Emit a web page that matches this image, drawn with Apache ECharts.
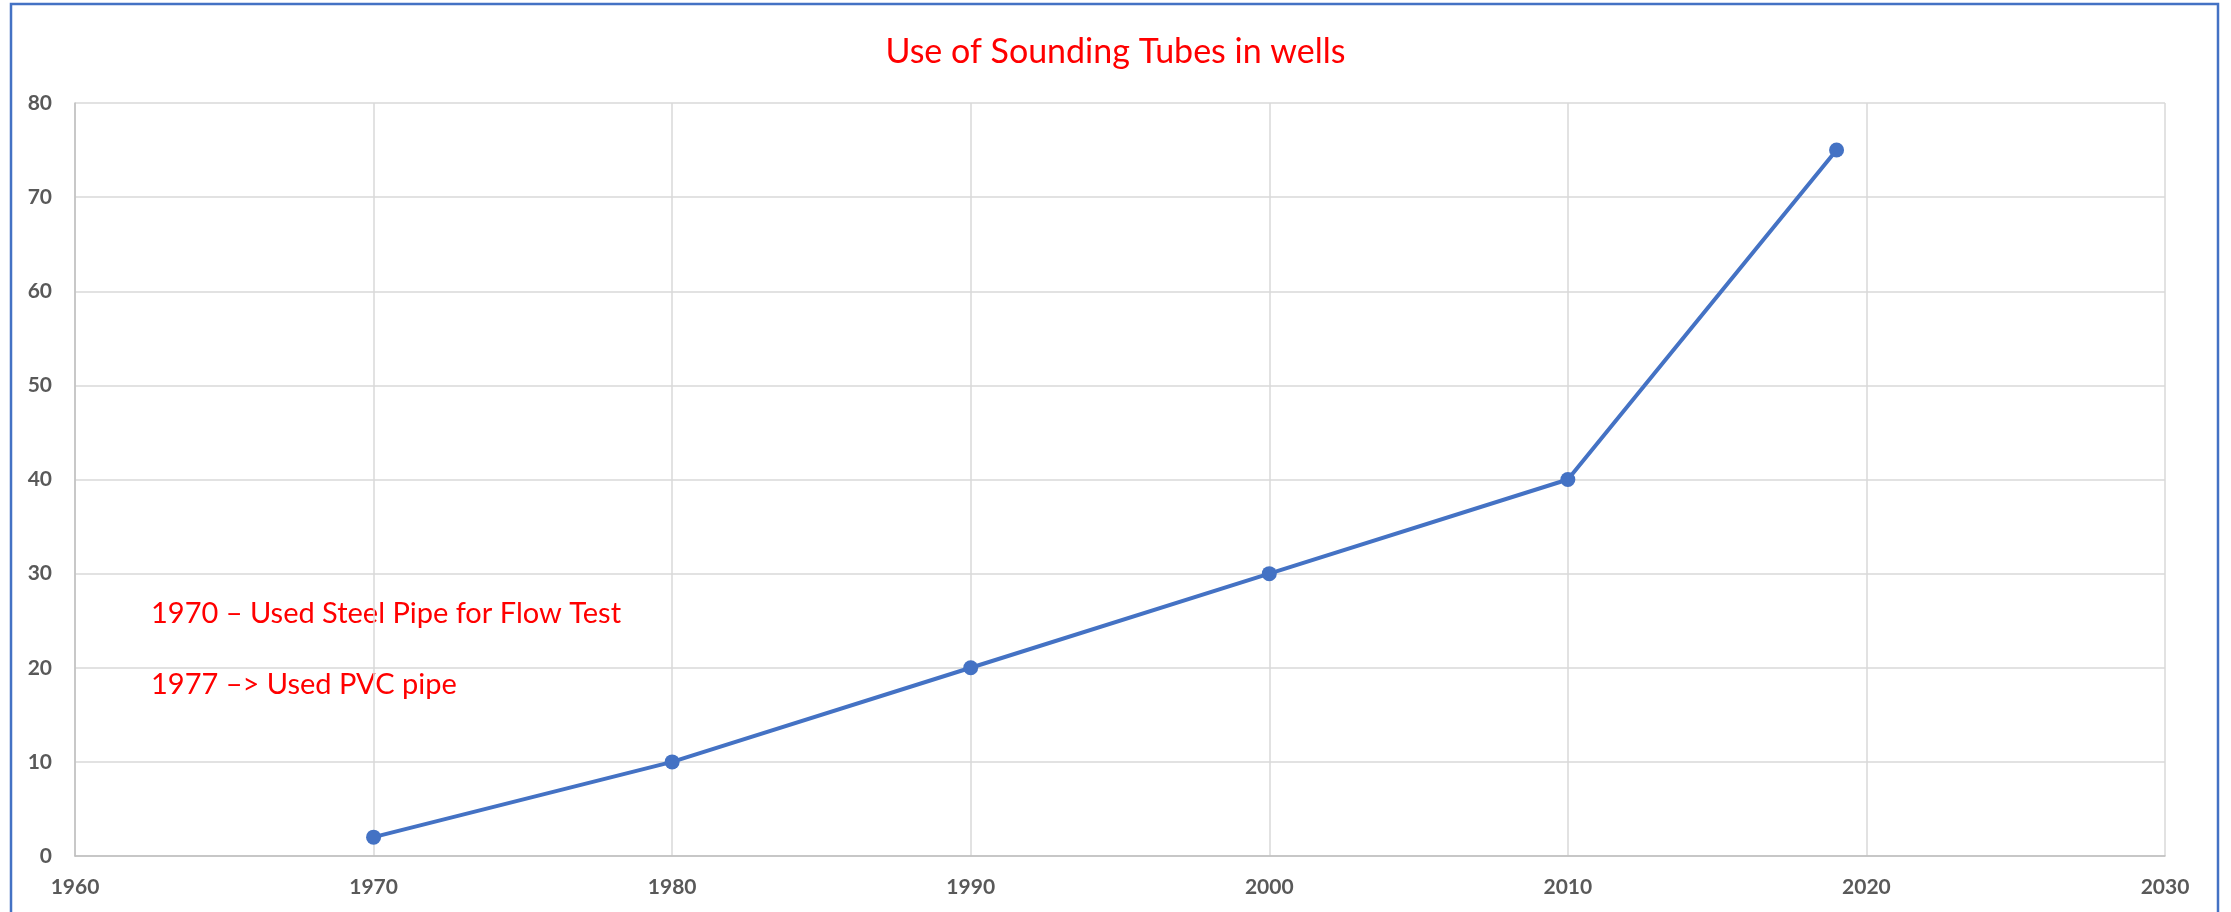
<!DOCTYPE html>
<html>
<head>
<meta charset="utf-8">
<title>Use of Sounding Tubes in wells</title>
<script src="https://cdn.jsdelivr.net/npm/echarts@6/dist/echarts.min.js"></script>
<style>
    html, body { margin: 0; padding: 0; background: #ffffff; }
    #main { width: 2231px; height: 912px; }
</style>
</head>
<body>
<div id="main"></div>
<script>
// values
var years = [1970, 1980, 1990, 2000, 2010, 2019];
var tubes = [2, 10, 20, 30, 40, 75];
var notes = ["1970 \u2013 Used Steel Pipe for Flow Test", "1977 \u2013> Used PVC pipe"];
var titleText = "Use of Sounding Tubes in wells";

var labelColor = "#595959";
var gridColor = "#d9d9d9";
var lineColor = "#4472C4";

var state = {
    animation: false,
    textStyle: {
        fontFamily: "Lato",
    },
    title: {
        text: titleText,
        left: "center",
        top: 30,
        textStyle: {
            fontSize: 34,
            fontWeight: "normal",
            color: "#ff0000",
        },
    },
    grid: {
        left: 75,
        right: 66,
        top: 103,
        bottom: 56,
    },
    xAxis: {
        type: "value",
        min: 1960,
        max: 2030,
        interval: 10,
        axisLine: {
            show: true,
            lineStyle: { color: "#bfbfbf", width: 1.5 },
        },
        axisTick: { show: false },
        axisLabel: {
            color: labelColor,
            fontSize: 21,
            fontWeight: "bold",
            margin: 21,
            formatter: function (v) { return String(v); },
        },
        splitLine: {
            show: true,
            lineStyle: { color: gridColor, width: 1.5 },
        },
    },
    yAxis: {
        type: "value",
        min: 0,
        max: 80,
        interval: 10,
        axisLine: {
            show: true,
            lineStyle: { color: "#bfbfbf", width: 1.5 },
        },
        axisTick: { show: false },
        axisLabel: {
            color: labelColor,
            fontSize: 21,
            fontWeight: "bold",
            margin: 23,
        },
        splitLine: {
            show: true,
            lineStyle: { color: gridColor, width: 1.5 },
        },
    },
    graphic: [
        {
            type: "rect",
            silent: true,
            shape: { x: 11, y: 4, width: 2207, height: 930 },
            style: { fill: "none", stroke: lineColor, lineWidth: 2.5 },
        },
        {
            type: "text",
            left: 151,
            top: 599,
            style: { text: notes[0], fill: "#ff0000", font: "29px Lato" },
        },
        {
            type: "text",
            left: 151,
            top: 670,
            style: { text: notes[1], fill: "#ff0000", font: "29px Lato" },
        },
    ],
    series: [
        {
            type: "line",
            data: years.map(function (y, i) { return [y, tubes[i]]; }),
            symbol: "circle",
            symbolSize: 15,
            itemStyle: { color: lineColor },
            lineStyle: { color: lineColor, width: 4 },
        },
    ],
};

var myChart = echarts.init(document.getElementById("main"));
myChart.setOption(state);
</script>
</body>
</html>
